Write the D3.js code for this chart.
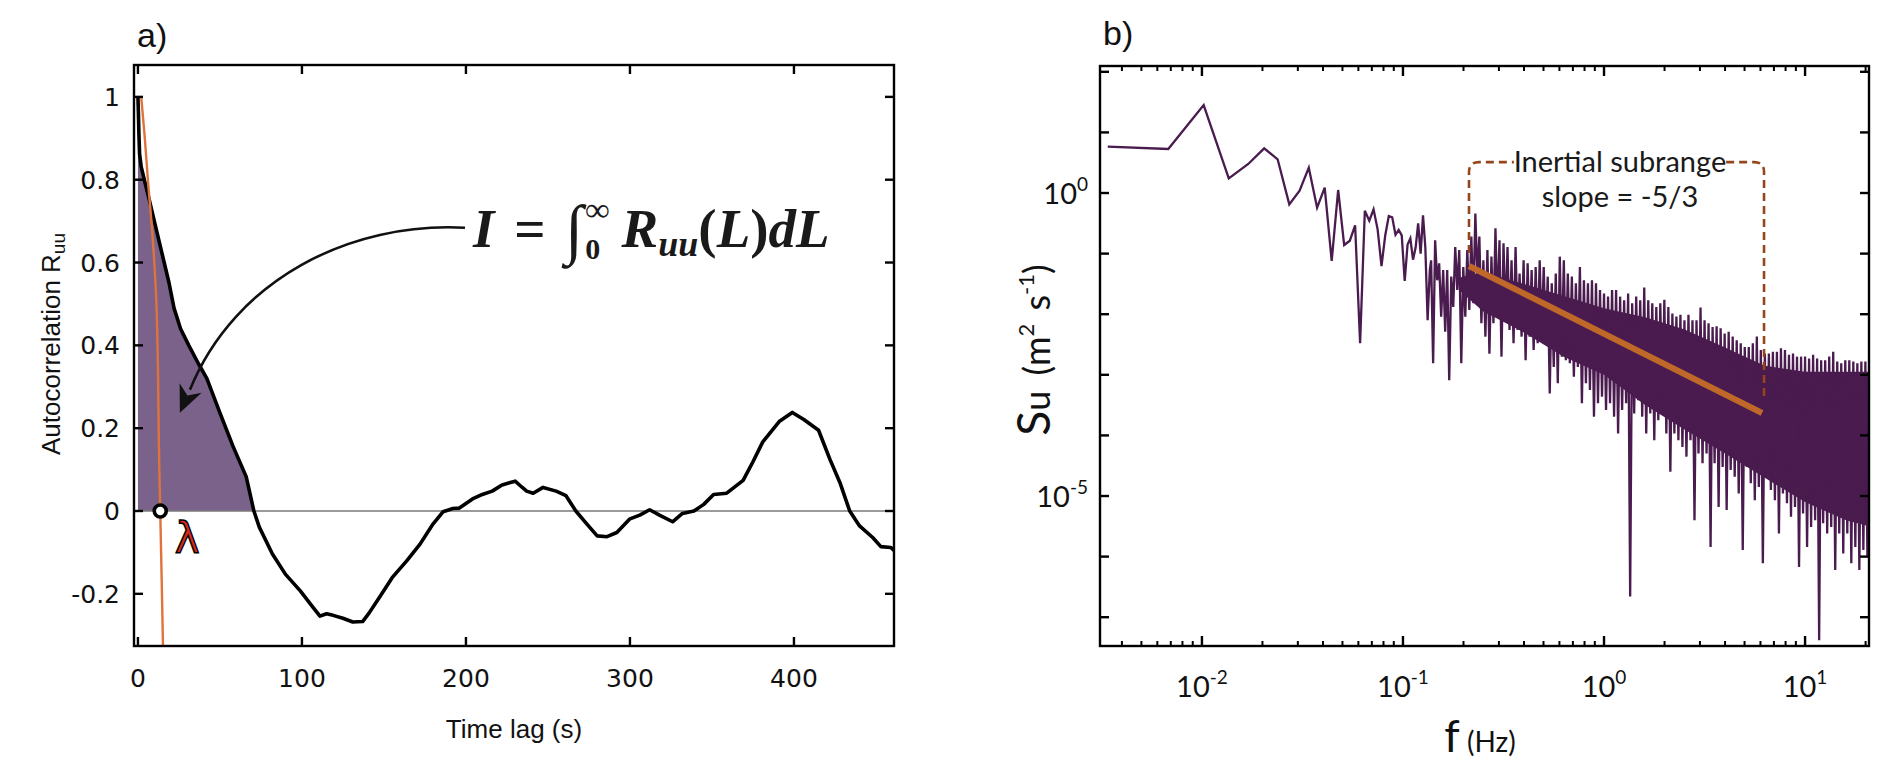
<!DOCTYPE html>
<html>
<head>
<meta charset="utf-8">
<script src="https://cdn.jsdelivr.net/npm/d3@7"></script>
<style>
  html, body { margin: 0; padding: 0; background: #fff; }
  svg { display: block; }
</style>
</head>
<body>
<svg id="chart"></svg>
<script>
// ---------- panel a : autocorrelation ----------
const lagT = [0,0.3,0.6,1,2,4,7,10,13,16,19,22,26,31,37,42,50,58,66,70.7,
  74,82,90,99,107,111,115,119,125,131,137,141,147,155,164,172,180,186,192,196,
  200,204,210,216,222,230,234,237,241,247,255,261,267,273,280,286,292,300,306,312,
  318,326,332,339,345,351,359,369,375,381,391,399,406,415,422,428,434,440,448,453,459,461];
const acfR = [1,0.96,0.91,0.863,0.831,0.798,0.75,0.70,0.65,0.60,0.55,0.49,0.44,0.40,0.355,0.32,0.237,0.156,0.083,0,
  -0.039,-0.104,-0.153,-0.193,-0.234,-0.254,-0.248,-0.252,-0.259,-0.268,-0.267,-0.246,-0.21,-0.161,-0.12,-0.08,-0.031,-0.002,0.006,0.007,
  0.018,0.029,0.04,0.048,0.063,0.072,0.058,0.048,0.043,0.057,0.048,0.037,0,-0.028,-0.06,-0.062,-0.052,-0.019,-0.01,0.003,
  -0.01,-0.026,-0.006,0,0.016,0.04,0.043,0.074,0.119,0.167,0.216,0.238,0.221,0.195,0.124,0.069,0,-0.036,-0.064,-0.086,-0.088,-0.095];
// parabola fit near the origin (orange)
const fitT = [2,4,6.1,8.8,11.2,12.2,12.8,13.6,14.5,15.3];
const fitR = [1.0,0.91,0.798,0.67,0.508,0.347,0.153,0,-0.17,-0.33];
const lambdaLag = 13.6;
const firstZero = 70.7;
const xTicksA = [0, 100, 200, 300, 400];
const yTicksA = [-0.2, 0, 0.2, 0.4, 0.6, 0.8, 1];
const yLabelsA = ["-0.2", "0", "0.2", "0.4", "0.6", "0.8", "1"];

// ---------- panel b : spectrum (values are log10 S) ----------
const psdDf = 0.0034;           // frequency step of the resolved low bins
const psdLow = [0.764,0.726,1.452,0.242,0.479,0.737,0.556,-0.187,0.038,0.418,
  -0.242,0.088,-1.122,0.05,-0.858,-0.787,-0.534,-2.48,-0.292,-0.457,
  -0.27,-0.6,-1.205,-0.7,-0.38,-0.40,-0.69,-0.61,-0.70,-1.45,
  -0.85,-0.75,-1.1,-0.9,-0.5,-1.0,-0.37,-0.9,-2.1,-1.27];
// dense part, every 0.02 decade: local top and local bottom
const denseLogF0 = -0.86, denseLogStep = 0.02;
const denseHi = [
  -1.11,-0.78,-1.16,-1.27,-1.27,-1.38,-0.89,-0.94,-1.22,-0.94,
  -0.72,-0.34,-0.72,-1.11,-0.94,-1.05,-0.58,-0.78,-0.83,-0.89,
  -1.11,-0.89,-1.33,-1.11,-1.16,-1.27,-1.22,-1.11,-1.22,-1.38,
  -1.49,-1.33,-1.05,-1.11,-1.33,-1.38,-1.49,-1.22,-1.44,-1.49,
  -1.44,-1.49,-1.60,-1.66,-1.71,-1.60,-1.60,-1.71,-1.77,-1.66,
  -1.82,-1.71,-1.77,-1.56,-1.77,-1.82,-1.88,-1.82,-1.76,-1.88,
  -1.99,-2.04,-2.01,-2.10,-2.01,-2.10,-2.10,-1.89,-2.10,-2.15,
  -2.21,-2.20,-2.23,-2.32,-2.29,-2.37,-2.43,-2.48,-2.54,-2.54,
  -2.48,-2.37,-2.59,-2.65,-2.65,-2.62,-2.62,-2.56,-2.59,-2.67,
  -2.65,-2.70,-2.70,-2.70,-2.73,-2.67,-2.73,-2.76,-2.76,-2.70,
  -2.62,-2.78,-2.81,-2.76,-2.76,-2.78,-2.81,-2.78,-2.78];
const denseLo = [
  -2.81,-1.44,-2.04,-2.29,-3.09,-1.88,-1.60,-2.81,-2.04,-1.93,
  -1.82,-1.38,-2.15,-2.37,-2.65,-2.15,-1.93,-2.70,-2.04,-2.26,
  -2.48,-2.26,-2.37,-2.76,-2.37,-2.59,-2.48,-2.37,-2.43,-3.31,
  -2.87,-3.14,-2.70,-2.76,-2.81,-3.03,-2.87,-3.47,-3.14,-3.25,
  -3.69,-3.47,-3.36,-3.58,-3.47,-3.69,-3.97,-3.58,-3.47,-6.66,
  -3.64,-3.42,-3.69,-3.97,-3.64,-4.08,-3.75,-3.64,-3.97,-4.60,
  -3.97,-4.08,-4.19,-4.35,-4.08,-5.40,-4.30,-4.46,-4.30,-5.84,
  -4.46,-5.18,-4.52,-5.23,-4.57,-4.68,-4.96,-5.89,-4.52,-4.79,
  -5.07,-4.85,-6.11,-4.68,-4.90,-5.07,-5.62,-4.96,-5.12,-5.34,
  -5.18,-6.17,-5.29,-5.84,-5.51,-5.40,-7.38,-5.45,-5.62,-5.51,
  -6.22,-5.62,-5.95,-5.62,-6.11,-5.84,-6.22,-5.89,-6.00];
// solid core of the dense band (log10 S)
const coreF   = [0.19, 0.25, 0.4, 0.63, 1, 1.6, 2.5, 4, 6.3, 10, 16, 20.9];
const coreTop = [-1.4,-1.3,-1.5,-1.7,-1.9,-2.05,-2.25,-2.55,-2.85,-2.95,-2.95,-2.95];
const coreBot = [-1.6,-1.95,-2.3,-2.7,-3.0,-3.5,-3.9,-4.3,-4.7,-5.1,-5.4,-5.5];
// -5/3 fit segment
const slopeF = [0.213, 6.11];
const slopeS = [0.0624, 0.000234];
// bracket around the inertial subrange
const bracketF = [0.213, 0.356, 4.05, 6.25];   // left leg, text gap start, text gap end, right leg
const bracketS = [0.102, 3.24, 0.000427];       // left leg bottom, top line, right leg bottom
const xDecadesB = [-2, -1, 0, 1];
const yDecadesB = [-7, -6, -5, -4, -3, -2, -1, 0, 1, 2];
const yLabelDecadesB = [0, -5];

const width = 1892, height = 777;
const svg = d3.select("#chart").attr("width", width).attr("height", height);

const tickFont = "DejaVu Sans";
const calibriLike = "Lato";
const purple = "#4a1b4e";

// ================= panel a =================
const xA = d3.scaleLinear().domain([-2.4, 461]).range([134, 894]);
const yA = d3.scaleLinear().domain([-0.326, 1.077]).range([646, 65]);

svg.append("clipPath").attr("id", "clipA").append("rect")
  .attr("x", 134).attr("y", 65).attr("width", 760).attr("height", 581);

const acf = lagT.map((t, i) => ({ t, r: acfR[i] }));
const pa = svg.append("g").attr("clip-path", "url(#clipA)");

pa.append("path")
  .datum(acf.filter(d => d.t <= firstZero))
  .attr("d", d3.area().x(d => xA(d.t)).y0(yA(0)).y1(d => yA(d.r)))
  .attr("fill", "#7a628a");

pa.append("line")
  .attr("x1", xA.range()[0]).attr("x2", xA.range()[1])
  .attr("y1", yA(0)).attr("y2", yA(0))
  .attr("stroke", "#7a7a7a").attr("stroke-width", 1.6);

pa.append("path")
  .datum(acf)
  .attr("d", d3.line().x(d => xA(d.t)).y(d => yA(d.r)))
  .attr("fill", "none").attr("stroke", "#000").attr("stroke-width", 3.6)
  .attr("stroke-linejoin", "round");

pa.append("path")
  .datum(fitT.map((t, i) => ({ t, r: fitR[i] })))
  .attr("d", d3.line().curve(d3.curveMonotoneY).x(d => xA(d.t)).y(d => yA(d.r)))
  .attr("fill", "none").attr("stroke", "#e0733c").attr("stroke-width", 2.4);

pa.append("circle")
  .attr("cx", xA(lambdaLag)).attr("cy", yA(0)).attr("r", 6)
  .attr("fill", "#fff").attr("stroke", "#000").attr("stroke-width", 3.6);

svg.append("text")
  .attr("x", xA(30)).attr("y", yA(-0.101))
  .attr("text-anchor", "middle")
  .attr("font-family", "DejaVu Sans").attr("font-size", 42)
  .attr("fill", "#d42a1c").attr("stroke", "#000").attr("stroke-width", 1.4)
  .text("λ");

// curved arrow to the shaded integral
const arrowP = [[199.4, 0.684], [129.3, 0.699], [59.1, 0.559], [31.7, 0.293]];
const ap = arrowP.map(p => [xA(p[0]), yA(p[1])]);
svg.append("path")
  .attr("d", `M${ap[0]}C${ap[1]} ${ap[2]} ${ap[3]}`)
  .attr("fill", "none").attr("stroke", "#111").attr("stroke-width", 2.6);
{
  const tip = [xA(25.6), yA(0.237)];
  const dx = tip[0] - ap[3][0], dy = tip[1] - ap[3][1];
  const len = Math.hypot(dx, dy), ux = dx / len, uy = dy / len;
  const nx = -uy, ny = ux;
  const base = [tip[0] - 27 * ux, tip[1] - 27 * uy];
  const notch = [tip[0] - 19 * ux, tip[1] - 19 * uy];
  svg.append("path")
    .attr("d", `M${tip}L${base[0] + 12 * nx},${base[1] + 12 * ny}L${notch}L${base[0] - 12 * nx},${base[1] - 12 * ny}Z`)
    .attr("fill", "#111");
}

// formula
const formula = svg.append("text")
  .attr("x", 473).attr("y", 247)
  .attr("font-family", "Liberation Serif").attr("font-weight", "bold")
  .attr("font-size", 55).attr("fill", "#1a1a1a");
formula.append("tspan").attr("font-style", "italic").text("I");
formula.append("tspan").attr("dx", 6).text(" = ");
formula.append("tspan").attr("dx", 6).attr("font-size", 66).attr("font-weight", "normal").attr("dy", 4).text("∫");
formula.append("tspan").attr("font-size", 30).attr("dx", 2).attr("dy", 8).text("0");
formula.append("tspan").attr("font-size", 34).attr("dx", -15).attr("dy", -38).text("∞");
formula.append("tspan").attr("font-style", "italic").attr("dx", 12).attr("dy", 26).text("R");
formula.append("tspan").attr("font-style", "italic").attr("font-size", 36).attr("dy", 9).text("uu");
formula.append("tspan").attr("dy", -9).text("(");
formula.append("tspan").attr("font-style", "italic").text("L");
formula.append("tspan").text(")");
formula.append("tspan").attr("font-style", "italic").text("dL");

// frame and ticks
const ga = svg.append("g").attr("stroke", "#000").attr("stroke-width", 2.4);
ga.append("rect").attr("x", 134).attr("y", 65).attr("width", 760).attr("height", 581).attr("fill", "none");
xTicksA.forEach(t => {
  ga.append("line").attr("x1", xA(t)).attr("x2", xA(t)).attr("y1", 646).attr("y2", 637);
  ga.append("line").attr("x1", xA(t)).attr("x2", xA(t)).attr("y1", 65).attr("y2", 74);
});
yTicksA.forEach(v => {
  ga.append("line").attr("x1", 134).attr("x2", 143).attr("y1", yA(v)).attr("y2", yA(v));
  ga.append("line").attr("x1", 894).attr("x2", 885).attr("y1", yA(v)).attr("y2", yA(v));
});
svg.append("g").selectAll("text").data(xTicksA).join("text")
  .attr("x", d => xA(d)).attr("y", 687).attr("text-anchor", "middle")
  .attr("font-family", tickFont).attr("font-size", 25).attr("fill", "#111")
  .text(d => d);
svg.append("g").selectAll("text").data(yTicksA).join("text")
  .attr("x", 120).attr("y", d => yA(d) + 9).attr("text-anchor", "end")
  .attr("font-family", tickFont).attr("font-size", 25).attr("fill", "#111")
  .text((d, i) => yLabelsA[i]);

svg.append("text").attr("x", 514).attr("y", 738).attr("text-anchor", "middle")
  .attr("font-family", "Liberation Sans").attr("font-size", 26).attr("fill", "#111")
  .text("Time lag (s)");
const ylabA = svg.append("text").attr("transform", "translate(60,344) rotate(-90)")
  .attr("text-anchor", "middle").attr("font-family", "Liberation Sans")
  .attr("font-size", 26).attr("fill", "#111");
ylabA.append("tspan").text("Autocorrelation R");
ylabA.append("tspan").attr("font-size", 19).attr("dy", 5).text("uu");

svg.append("text").attr("x", 137).attr("y", 47)
  .attr("font-family", "Liberation Sans").attr("font-size", 34).attr("fill", "#111").text("a)");

// ================= panel b =================
const xB = d3.scaleLog().domain([Math.pow(10, -2.507), Math.pow(10, 1.318)]).range([1100, 1869]);
const yB = d3.scaleLog().domain([Math.pow(10, -7.475), Math.pow(10, 2.096)]).range([646, 66]);

svg.append("clipPath").attr("id", "clipB").append("rect")
  .attr("x", 1100).attr("y", 66).attr("width", 769).attr("height", 580);
const pb = svg.append("g").attr("clip-path", "url(#clipB)");

pb.append("path")
  .datum(coreF.map((f, i) => [f, Math.pow(10, coreTop[i]), Math.pow(10, coreBot[i])]))
  .attr("d", d3.area().x(d => xB(d[0])).y0(d => yB(d[2])).y1(d => yB(d[1])))
  .attr("fill", purple);

const lowPts = psdLow.map((v, i) => [psdDf * (i + 1), Math.pow(10, v)]);
const densePts = [];
denseHi.forEach((v, i) => {
  const lf = denseLogF0 + denseLogStep * i;
  densePts.push([Math.pow(10, lf), Math.pow(10, v)]);
  densePts.push([Math.pow(10, lf + denseLogStep / 2), Math.pow(10, denseLo[i])]);
});
const psdLine = d3.line().x(d => xB(d[0])).y(d => yB(d[1]));
pb.append("path")
  .datum(lowPts.concat(densePts))
  .attr("d", psdLine)
  .attr("fill", "none").attr("stroke", purple).attr("stroke-width", 2.3)
  .attr("stroke-linejoin", "miter");

// bracket (dashed)
{
  const xl = xB(bracketF[0]), xg1 = xB(bracketF[1]), xg2 = xB(bracketF[2]), xr = xB(bracketF[3]);
  const yl = yB(bracketS[0]), yt = yB(bracketS[1]), yr = yB(bracketS[2]);
  const r = 10;
  pb.append("path")
    .attr("d", `M${xl},${yl}L${xl},${yt + r}Q${xl},${yt} ${xl + r},${yt}L${xg1},${yt}` +
               `M${xg2},${yt}L${xr - r},${yt}Q${xr},${yt} ${xr},${yt + r}L${xr},${yr}`)
    .attr("fill", "none").attr("stroke", "#96461c").attr("stroke-width", 2.6)
    .attr("stroke-dasharray", "8,5");
}
pb.append("line")
  .attr("x1", xB(slopeF[0])).attr("y1", yB(slopeS[0]))
  .attr("x2", xB(slopeF[1])).attr("y2", yB(slopeS[1]))
  .attr("stroke", "#c0672a").attr("stroke-width", 6);

svg.append("text").attr("x", xB(1.2)).attr("y", yB(Math.pow(10, 0.35)))
  .attr("text-anchor", "middle").attr("font-family", calibriLike).attr("font-size", 29)
  .attr("fill", "#1a1a1a").text("Inertial subrange");
svg.append("text").attr("x", xB(1.2)).attr("y", yB(Math.pow(10, -0.23)))
  .attr("text-anchor", "middle").attr("font-family", calibriLike).attr("font-size", 29)
  .attr("fill", "#1a1a1a").text("slope = -5/3");

// frame and ticks
const gb = svg.append("g").attr("stroke", "#000").attr("stroke-width", 2.4);
gb.append("rect").attr("x", 1100).attr("y", 66).attr("width", 769).attr("height", 580).attr("fill", "none");
xB.ticks().forEach(t => {
  const lg = Math.log10(t);
  const major = Math.abs(lg - Math.round(lg)) < 1e-6;
  const len = major ? 10 : 5;
  gb.append("line").attr("x1", xB(t)).attr("x2", xB(t)).attr("y1", 646).attr("y2", 646 - len).attr("stroke-width", major ? 2.4 : 2);
  gb.append("line").attr("x1", xB(t)).attr("x2", xB(t)).attr("y1", 66).attr("y2", 66 + len).attr("stroke-width", major ? 2.4 : 2);
});
yDecadesB.forEach(e => {
  const y = yB(Math.pow(10, e));
  gb.append("line").attr("x1", 1100).attr("x2", 1109).attr("y1", y).attr("y2", y);
  gb.append("line").attr("x1", 1869).attr("x2", 1860).attr("y1", y).attr("y2", y);
});
xDecadesB.forEach(e => {
  const t = svg.append("text").attr("x", xB(Math.pow(10, e))).attr("y", 697)
    .attr("text-anchor", "middle").attr("font-family", calibriLike).attr("font-size", 29).attr("fill", "#111");
  t.append("tspan").text("10");
  t.append("tspan").attr("font-size", 19).attr("dy", -13).text(e);
});
yLabelDecadesB.forEach(e => {
  const t = svg.append("text").attr("x", 1088).attr("y", yB(Math.pow(10, e)) + 11)
    .attr("text-anchor", "end").attr("font-family", calibriLike).attr("font-size", 29).attr("fill", "#111");
  t.append("tspan").text("10");
  t.append("tspan").attr("font-size", 19).attr("dy", -13).text(e);
});

const xlabB = svg.append("text").attr("x", 1480).attr("y", 752).attr("text-anchor", "middle")
  .attr("font-family", calibriLike).attr("fill", "#111");
xlabB.append("tspan").attr("font-size", 44).text("f");
xlabB.append("tspan").attr("font-size", 28).text(" (Hz)");

const ylabB = svg.append("text").attr("transform", "translate(1050,350) rotate(-90)")
  .attr("text-anchor", "middle").attr("font-family", calibriLike).attr("fill", "#111");
ylabB.append("tspan").attr("font-size", 46).text("S");
ylabB.append("tspan").attr("font-size", 36).text("u");
ylabB.append("tspan").attr("font-size", 36).attr("dx", 6).text(" (m");
ylabB.append("tspan").attr("font-size", 22).attr("dy", -16).text("2");
ylabB.append("tspan").attr("font-size", 36).attr("dx", 4).attr("dy", 16).text(" s");
ylabB.append("tspan").attr("font-size", 22).attr("dy", -16).text("-1");
ylabB.append("tspan").attr("font-size", 36).attr("dy", 16).text(")");

svg.append("text").attr("x", 1103).attr("y", 45)
  .attr("font-family", "Liberation Sans").attr("font-size", 34).attr("fill", "#111").text("b)");
</script>
</body>
</html>
